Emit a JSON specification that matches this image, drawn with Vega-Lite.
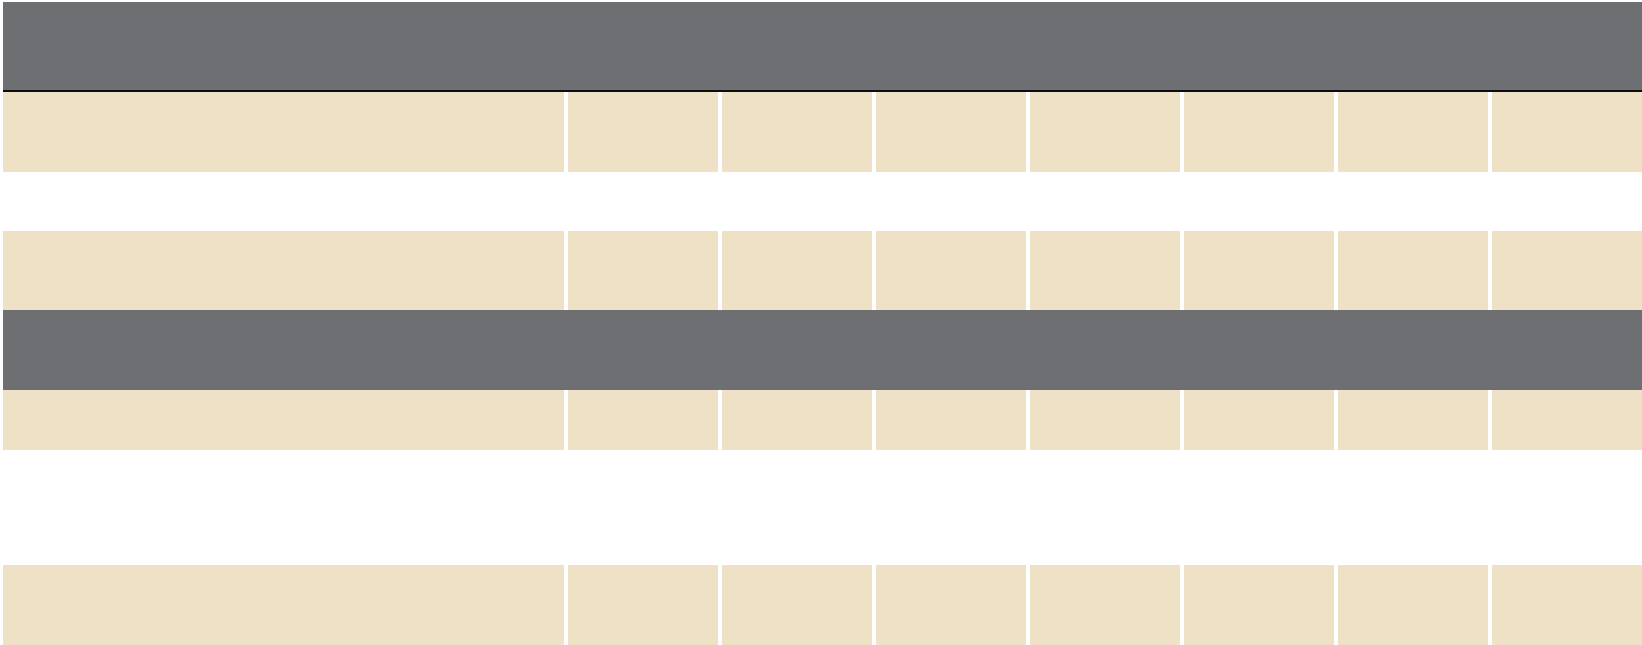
{
  "$schema": "https://vega.github.io/schema/vega-lite/v6.json",
  "width": 1642,
  "height": 645,
  "padding": 0,
  "background": "white",
  "config": {"view": {"stroke": null}},
  "datasets": {
    "rows": [
      {"row": "header1", "kind": "header", "top": 2, "bottom": 90, "first": "c0", "last": "c7"},
      {"row": "body1", "kind": "body", "top": 92, "bottom": 172},
      {"row": "blank1", "kind": "blank", "top": 172, "bottom": 231},
      {"row": "body2", "kind": "body", "top": 231, "bottom": 310},
      {"row": "header2", "kind": "header", "top": 310, "bottom": 390, "first": "c0", "last": "c7"},
      {"row": "body3", "kind": "body", "top": 390, "bottom": 450},
      {"row": "blank2", "kind": "blank", "top": 450, "bottom": 565},
      {"row": "body4", "kind": "body", "top": 565, "bottom": 645}
    ],
    "cols": [
      {"col": "c0", "left": 3, "right": 564},
      {"col": "c1", "left": 568, "right": 718},
      {"col": "c2", "left": 722, "right": 872},
      {"col": "c3", "left": 876, "right": 1026},
      {"col": "c4", "left": 1030, "right": 1180},
      {"col": "c5", "left": 1184, "right": 1334},
      {"col": "c6", "left": 1338, "right": 1488},
      {"col": "c7", "left": 1492, "right": 1642}
    ],
    "cells": [
      {"row": "body1", "col": "c0"}, {"row": "body1", "col": "c1"}, {"row": "body1", "col": "c2"}, {"row": "body1", "col": "c3"},
      {"row": "body1", "col": "c4"}, {"row": "body1", "col": "c5"}, {"row": "body1", "col": "c6"}, {"row": "body1", "col": "c7"},
      {"row": "body2", "col": "c0"}, {"row": "body2", "col": "c1"}, {"row": "body2", "col": "c2"}, {"row": "body2", "col": "c3"},
      {"row": "body2", "col": "c4"}, {"row": "body2", "col": "c5"}, {"row": "body2", "col": "c6"}, {"row": "body2", "col": "c7"},
      {"row": "body3", "col": "c0"}, {"row": "body3", "col": "c1"}, {"row": "body3", "col": "c2"}, {"row": "body3", "col": "c3"},
      {"row": "body3", "col": "c4"}, {"row": "body3", "col": "c5"}, {"row": "body3", "col": "c6"}, {"row": "body3", "col": "c7"},
      {"row": "body4", "col": "c0"}, {"row": "body4", "col": "c1"}, {"row": "body4", "col": "c2"}, {"row": "body4", "col": "c3"},
      {"row": "body4", "col": "c4"}, {"row": "body4", "col": "c5"}, {"row": "body4", "col": "c6"}, {"row": "body4", "col": "c7"}
    ]
  },
  "layer": [
    {
      "data": {"name": "rows"},
      "transform": [
        {"filter": "datum.kind === 'header'"},
        {"lookup": "first", "from": {"data": {"name": "cols"}, "key": "col", "fields": ["left"]}},
        {"lookup": "last", "from": {"data": {"name": "cols"}, "key": "col", "fields": ["right"]}}
      ],
      "mark": {"type": "rect"},
      "encoding": {
        "x": {"field": "left", "type": "quantitative", "scale": {"domain": [0, 1642], "nice": false, "zero": false}, "axis": null},
        "x2": {"field": "right"},
        "y": {"field": "top", "type": "quantitative", "scale": {"domain": [0, 645], "reverse": true, "nice": false, "zero": false}, "axis": null},
        "y2": {"field": "bottom"},
        "color": {"field": "kind", "type": "nominal", "scale": {"domain": ["header", "body"], "range": ["#6e6f73", "#eee1c6"]}, "legend": null}
      }
    },
    {
      "data": {"name": "cells"},
      "transform": [
        {"lookup": "row", "from": {"data": {"name": "rows"}, "key": "row", "fields": ["kind", "top", "bottom"]}},
        {"lookup": "col", "from": {"data": {"name": "cols"}, "key": "col", "fields": ["left", "right"]}}
      ],
      "mark": {"type": "rect"},
      "encoding": {
        "x": {"field": "left", "type": "quantitative", "axis": null},
        "x2": {"field": "right"},
        "y": {"field": "top", "type": "quantitative", "axis": null},
        "y2": {"field": "bottom"},
        "color": {"field": "kind", "type": "nominal", "legend": null}
      }
    },
    {
      "data": {"name": "rows"},
      "transform": [
        {"filter": "datum.row === 'header1'"},
        {"lookup": "first", "from": {"data": {"name": "cols"}, "key": "col", "fields": ["left"]}},
        {"lookup": "last", "from": {"data": {"name": "cols"}, "key": "col", "fields": ["right"]}}
      ],
      "mark": {"type": "rule", "color": "#0d0d0f", "strokeWidth": 2, "yOffset": 1},
      "encoding": {
        "x": {"field": "left", "type": "quantitative", "axis": null},
        "x2": {"field": "right"},
        "y": {"field": "bottom", "type": "quantitative", "axis": null}
      }
    }
  ]
}
